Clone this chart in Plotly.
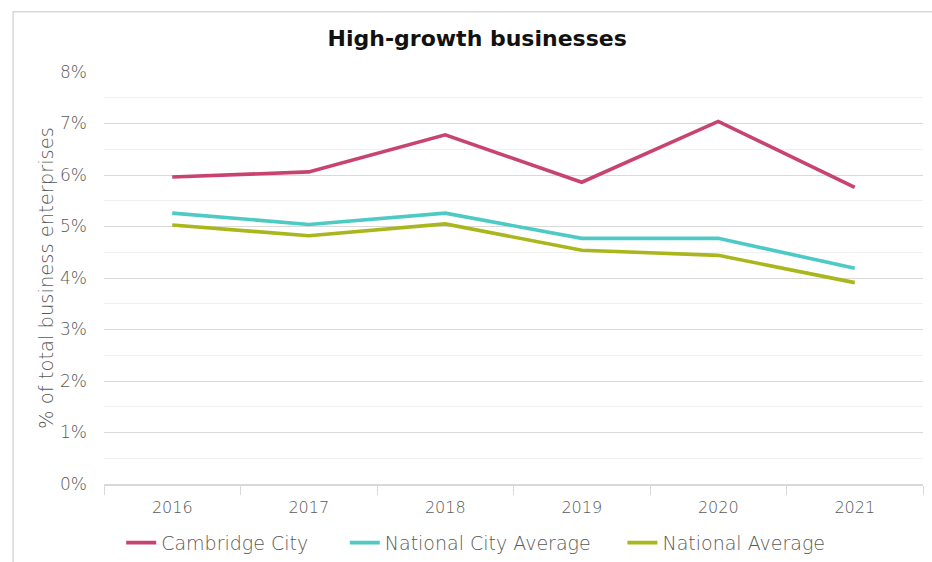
import plotly.graph_objects as go

years = ['2016', '2017', '2018', '2019', '2020', '2021']
cambridge = [5.96, 6.06, 6.78, 5.86, 7.04, 5.76]
national_city = [5.26, 5.04, 5.26, 4.77, 4.77, 4.19]
national = [5.03, 4.82, 5.05, 4.54, 4.44, 3.91]

names = ['Cambridge City', 'National City Average', 'National Average']
colors = ['#c8446f', '#4ecac4', '#a9b71c']
legend_ids = ['legend', 'legend2', 'legend3']
legend_x = [0.021, 0.294, 0.633]

fig = go.Figure()
for name, vals, col, lg in zip(names, [cambridge, national_city, national], colors, legend_ids):
    fig.add_trace(go.Scatter(x=years, y=vals, name=name, mode='lines', legend=lg,
                             line=dict(color=col, width=3.6)))

font_family = 'DejaVu Sans, sans-serif'
fig.update_layout(
    width=932, height=562, autosize=False,
    margin=dict(l=104, r=9, t=72, b=78),
    plot_bgcolor='white', paper_bgcolor='white',
    font=dict(family=font_family, color='#595959', size=16, weight=200),
    title=dict(text='<b>High-growth businesses</b>', x=0.512, xanchor='center',
               y=0.932, yanchor='middle',
               font=dict(size=22, color='#111111', family=font_family, weight=700)),
    showlegend=True,
)
# one legend per series so each entry can sit where the original puts it
for lg, lx in zip(legend_ids, legend_x):
    fig.update_layout({lg: dict(orientation='h', x=lx, xanchor='left',
                                yref='container', y=0.068, yanchor='top',
                                font=dict(size=19, color='#595959', weight=200),
                                itemwidth=30, bgcolor='rgba(0,0,0,0)')})

fig.update_xaxes(type='category', range=[-0.5, 5.5], automargin=False,
                 showgrid=False, showline=True, linecolor='#d9d9d9',
                 linewidth=1.5, ticks='outside', tickson='boundaries', ticklen=9,
                 tickcolor='#d9d9d9', ticklabelstandoff=8,
                 tickfont=dict(size=16, color='#595959', weight=200))
fig.update_yaxes(range=[0, 8], dtick=1, ticksuffix='%', showgrid=True, automargin=False,
                 gridcolor='#d9d9d9', gridwidth=1.3, zeroline=False,
                 minor=dict(dtick=0.5, showgrid=True, gridcolor='#f0f0f0', gridwidth=1.3),
                 tickfont=dict(size=17, color='#595959', weight=200), ticklabelstandoff=16,
                 title=dict(text='% of total business enterprises', standoff=1,
                            font=dict(size=19.5, color='#595959', weight=200)))

# light frame around the chart
fig.add_shape(type='rect', xref='paper', yref='paper',
              x0=-0.111, x1=1.05, y0=-0.2, y1=1.146,
              line=dict(color='#d9d9d9', width=1.5), layer='below')

fig.write_html('out.html', config={'displayModeBar': False, 'responsive': False},
               post_script="document.body.style.margin='0';")
